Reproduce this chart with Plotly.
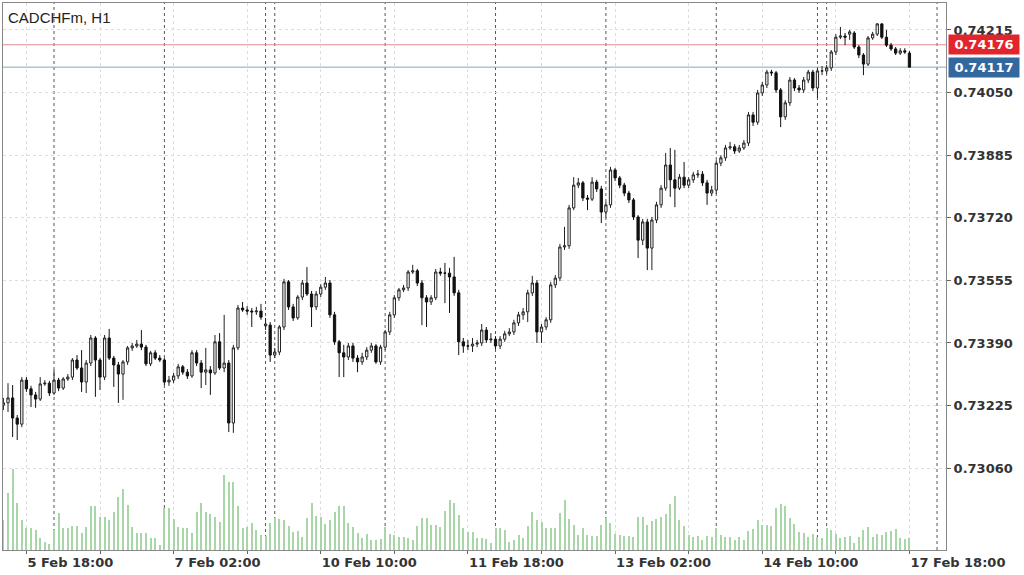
import plotly.graph_objects as go

SYMBOL_TITLE = "CADCHFm, H1"
PRICE_SCALE = 100000  # prices below are given in points (1e-5)

OPEN_PTS = [
73226,73232,73245,73192,73176,73292,73269,73253,73242,73282,
73284,73258,73292,73271,73295,73300,73345,73324,73287,73337,
73403,73345,73300,73403,73350,73332,73308,73340,73377,73382,
73387,73379,73335,73364,73350,73345,73287,73292,73303,73327,
73313,73303,73364,73337,73313,73319,73311,73393,73324,73337,
73179,73377,73482,73477,73474,73472,73474,73435,73437,73358,
73366,73432,73551,73485,73456,73511,73548,73519,73485,73519,
73537,73548,73464,73393,73364,73353,73382,73350,73340,73353,
73371,73382,73340,73379,73419,73464,73509,73530,73535,73577,
73580,73548,73509,73498,73509,73577,73574,73574,73564,73522,
73393,73382,73382,73387,73390,73424,73398,73400,73382,73400,
73414,73419,73443,73464,73472,73522,73548,73419,73432,73451,
73543,73561,73643,73646,73746,73806,73812,73772,73769,73814,
73796,73735,73754,73846,73825,73806,73785,73767,73722,73661,
73709,73640,73714,73754,73798,73859,73820,73798,73827,73806,
73820,73833,73835,73812,73785,73793,73864,73878,73904,73907,
73896,73904,73917,73991,73972,74049,74070,74104,74102,74057,
73986,74023,74083,74062,74057,74083,74104,74062,74107,74107,
74115,74157,74196,74199,74204,74207,74170,74149,74125,74194,
74204,74231,74196,74175,74165,74154,74160,74154]

HIGH_PTS = [
73245,73284,73279,73200,73300,73300,73277,73261,73300,73292,
73290,73319,73298,73300,73308,73350,73358,73371,73345,73411,
73408,73350,73411,73427,73356,73340,73345,73382,73390,73398,
73424,73385,73369,73371,73358,73350,73303,73311,73335,73332,
73321,73371,73371,73345,73377,73329,73411,73416,73464,73345,
73385,73490,73498,73487,73482,73485,73493,73456,73445,73377,
73437,73559,73556,73493,73516,73556,73590,73527,73527,73545,
73564,73556,73472,73398,73385,73390,73390,73358,73364,73379,
73390,73387,73385,73424,73472,73516,73535,73543,73582,73596,
73585,73556,73516,73516,73585,73588,73601,73588,73617,73530,
73403,73398,73403,73398,73440,73432,73416,73408,73408,73422,
73429,73451,73472,73482,73530,73567,73556,73440,73458,73551,
73569,73651,73696,73754,73827,73825,73817,73780,73827,73820,
73804,73762,73854,73851,73830,73812,73791,73772,73727,73717,
73717,73722,73762,73806,73891,73904,73899,73835,73867,73827,
73841,73846,73843,73820,73804,73872,73885,73912,73920,73914,
73912,73925,73999,73999,74057,74078,74110,74110,74107,74062,
74030,74091,74088,74070,74091,74110,74110,74115,74120,74123,
74162,74204,74223,74207,74215,74212,74175,74154,74199,74210,
74233,74233,74215,74181,74170,74167,74167,74160]

LOW_PTS = [
73213,73208,73142,73134,73168,73261,73221,73219,73237,73277,
73250,73253,73263,73266,73290,73292,73319,73261,73258,73329,
73248,73266,73292,73345,73274,73232,73240,73332,73369,73377,
73371,73329,73329,73345,73340,73279,73277,73284,73295,73306,
73295,73298,73329,73271,73279,73253,73306,73319,73313,73155,
73153,73371,73472,73464,73432,73464,73451,73424,73340,73350,
73358,73424,73477,73448,73451,73503,73514,73432,73477,73511,
73530,73456,73385,73300,73300,73345,73340,73313,73332,73345,
73364,73335,73332,73371,73411,73456,73501,73524,73527,73572,
73540,73437,73432,73490,73503,73567,73495,73469,73514,73358,
73364,73371,73366,73379,73382,73390,73390,73374,73374,73393,
73408,73411,73435,73451,73445,73514,73390,73390,73424,73443,
73535,73553,73635,73638,73740,73798,73764,73740,73764,73788,
73706,73719,73746,73817,73798,73777,73759,73714,73614,73648,
73582,73582,73706,73746,73791,73775,73748,73793,73798,73798,
73812,73825,73804,73754,73777,73783,73856,73870,73899,73888,
73891,73899,73909,73962,73965,74041,74062,74094,74049,73959,
73978,74015,74054,74049,74049,74075,74054,74036,74096,74099,
74107,74149,74191,74175,74189,74165,74141,74096,74120,74189,
74199,74191,74170,74160,74149,74149,74152,74117]

CLOSE_PTS = [
73232,73245,73192,73176,73292,73269,73253,73242,73282,73284,
73258,73292,73271,73295,73300,73345,73324,73287,73337,73403,
73345,73300,73403,73350,73332,73308,73340,73377,73382,73387,
73379,73335,73364,73350,73345,73287,73292,73303,73327,73313,
73303,73364,73337,73313,73319,73311,73393,73324,73337,73179,
73377,73482,73477,73474,73472,73474,73458,73440,73358,73366,
73432,73551,73485,73456,73511,73548,73519,73485,73519,73537,
73548,73464,73393,73364,73353,73382,73350,73340,73353,73371,
73382,73340,73379,73419,73464,73509,73530,73535,73577,73580,
73548,73509,73498,73509,73577,73574,73574,73564,73522,73393,
73382,73382,73387,73390,73424,73398,73400,73382,73400,73414,
73419,73443,73464,73472,73522,73548,73419,73432,73451,73543,
73561,73643,73646,73746,73806,73812,73772,73769,73814,73796,
73735,73754,73846,73825,73806,73785,73767,73722,73661,73709,
73640,73714,73754,73798,73859,73820,73798,73827,73806,73820,
73833,73835,73812,73785,73793,73864,73878,73904,73907,73896,
73904,73917,73991,73972,74049,74070,74104,74102,74057,73986,
74023,74083,74062,74057,74083,74104,74062,74107,74107,74115,
74157,74196,74199,74196,74210,74170,74149,74125,74194,74204,
74231,74196,74175,74165,74154,74160,74157,74117]

TICK_VOLUME = [
30,57,81,47,30,22,22,20,12,8,
6,20,37,22,22,24,24,17,23,44,
44,33,33,30,38,53,61,45,23,17,
17,17,12,12,5,42,42,31,23,22,
22,17,38,47,38,36,33,28,75,68,
68,44,22,23,27,20,15,14,27,32,
31,30,24,18,19,13,32,47,34,33,
26,30,38,44,44,27,23,17,12,16,
10,10,11,23,16,15,13,13,12,10,
24,32,32,25,25,23,39,50,47,35,
22,18,18,12,12,11,7,22,22,20,
8,10,15,12,24,38,30,28,22,22,
22,37,50,31,25,15,22,15,14,14,
25,32,27,16,15,14,14,13,33,33,
25,29,31,33,36,46,54,30,24,15,
13,14,10,14,13,22,15,13,13,10,
13,10,19,21,30,25,25,24,42,46,
44,32,26,18,17,13,16,13,12,22,
20,16,12,13,14,7,13,20,23,13,
16,15,18,19,21,12,11,12]

# time axis (bar index positions of grid ticks and labels)
TIME_TICK_POS = [5, 21, 37, 53, 69, 85, 101, 117, 133, 149, 165, 181, 197]
TIME_TICK_TEXT = ["5 Feb 18:00", "", "7 Feb 02:00", "", "10 Feb 10:00", "",
                  "11 Feb 18:00", "", "13 Feb 02:00", "", "14 Feb 10:00", "",
                  "17 Feb 18:00"]
PERIOD_SEPARATORS = [11, 35, 57, 59, 83, 107, 131, 155, 177, 179, 203]
PRICE_TICKS = [0.73060, 0.73225, 0.73390, 0.73555, 0.73720, 0.73885, 0.74050, 0.74215]
ASK_PRICE = 0.74176
BID_PRICE = 0.74117

opens = [v / PRICE_SCALE for v in OPEN_PTS]
highs = [v / PRICE_SCALE for v in HIGH_PTS]
lows = [v / PRICE_SCALE for v in LOW_PTS]
closes = [v / PRICE_SCALE for v in CLOSE_PTS]
bars = list(range(len(closes)))

fig = go.Figure()

fig.add_trace(go.Bar(
    x=bars, y=TICK_VOLUME, yaxis="y2", width=0.22,
    marker=dict(color="#a9d6a9", line=dict(width=0)),
    hoverinfo="skip", showlegend=False))

fig.add_trace(go.Candlestick(
    x=bars, open=opens, high=highs, low=lows, close=closes,
    increasing=dict(line=dict(color="#222222", width=1), fillcolor="#ffffff"),
    decreasing=dict(line=dict(color="#111111", width=1), fillcolor="#111111"),
    whiskerwidth=0, hoverinfo="skip", showlegend=False))

shapes = []
for s in PERIOD_SEPARATORS:
    shapes.append(dict(type="line", xref="x", yref="paper", x0=s, x1=s, y0=0, y1=1,
                       line=dict(color="#555555", width=1, dash="3px,3px"), layer="below"))
shapes.append(dict(type="line", xref="paper", yref="y", x0=0, x1=1, y0=ASK_PRICE, y1=ASK_PRICE,
                   line=dict(color="#e58b8b", width=1), layer="below"))
shapes.append(dict(type="line", xref="paper", yref="y", x0=0, x1=1, y0=BID_PRICE, y1=BID_PRICE,
                   line=dict(color="#8aa6ba", width=1), layer="below"))

axis_font = dict(family="DejaVu Sans", size=13, color="#333333", weight="bold")

fig.update_layout(
    width=1024, height=575,
    margin=dict(l=3, r=78, t=3, b=25, autoexpand=False),
    paper_bgcolor="#ffffff", plot_bgcolor="#ffffff",
    showlegend=False, boxgap=0.3,
    shapes=shapes,
    xaxis=dict(
        range=[-0.09, 204.95], tickmode="array", tickvals=TIME_TICK_POS, ticktext=TIME_TICK_TEXT,
        ticklabelposition="outside right", ticks="outside", ticklen=3, tickcolor="#666666",
        showgrid=True, gridcolor="#dddddd", griddash="3px,3px", gridwidth=1,
        showline=True, linecolor="#888888", mirror=True, zeroline=False,
        rangeslider=dict(visible=False), tickfont=axis_font, fixedrange=True,
        automargin=False),
    yaxis=dict(
        side="right", range=[0.728442, 0.742861], tickmode="array", tickvals=PRICE_TICKS,
        tickformat=".5f", ticks="outside", ticklen=4, tickcolor="#666666",
        showgrid=True, gridcolor="#dddddd", griddash="3px,3px", gridwidth=1,
        showline=True, linecolor="#888888", mirror=True, zeroline=False,
        tickfont=axis_font, fixedrange=True, automargin=False),
    yaxis2=dict(overlaying="y", range=[0, 547], visible=False, fixedrange=True),
    annotations=[
        dict(xref="paper", yref="paper", x=0, y=1, xanchor="left", yanchor="top",
             xshift=3, yshift=-4, text=SYMBOL_TITLE, showarrow=False,
             font=dict(family="Liberation Sans", size=15, color="#222222")),
        dict(xref="paper", yref="y", x=1, y=ASK_PRICE, xanchor="left", yanchor="middle",
             xshift=2, text=f"{ASK_PRICE:.5f}", showarrow=False, bgcolor="#e2252c",
             borderpad=2, width=66, font=dict(family="DejaVu Sans", size=13, color="#ffffff", weight="bold")),
        dict(xref="paper", yref="y", x=1, y=BID_PRICE, xanchor="left", yanchor="middle",
             xshift=2, text=f"{BID_PRICE:.5f}", showarrow=False, bgcolor="#33689f",
             borderpad=2, width=66, font=dict(family="DejaVu Sans", size=13, color="#ffffff", weight="bold")),
    ],
)

fig.write_html("out.html", config={"displayModeBar": False},
               post_script="document.body.style.margin='0';document.body.style.padding='0';"
                           "document.documentElement.style.overflow='hidden';")
